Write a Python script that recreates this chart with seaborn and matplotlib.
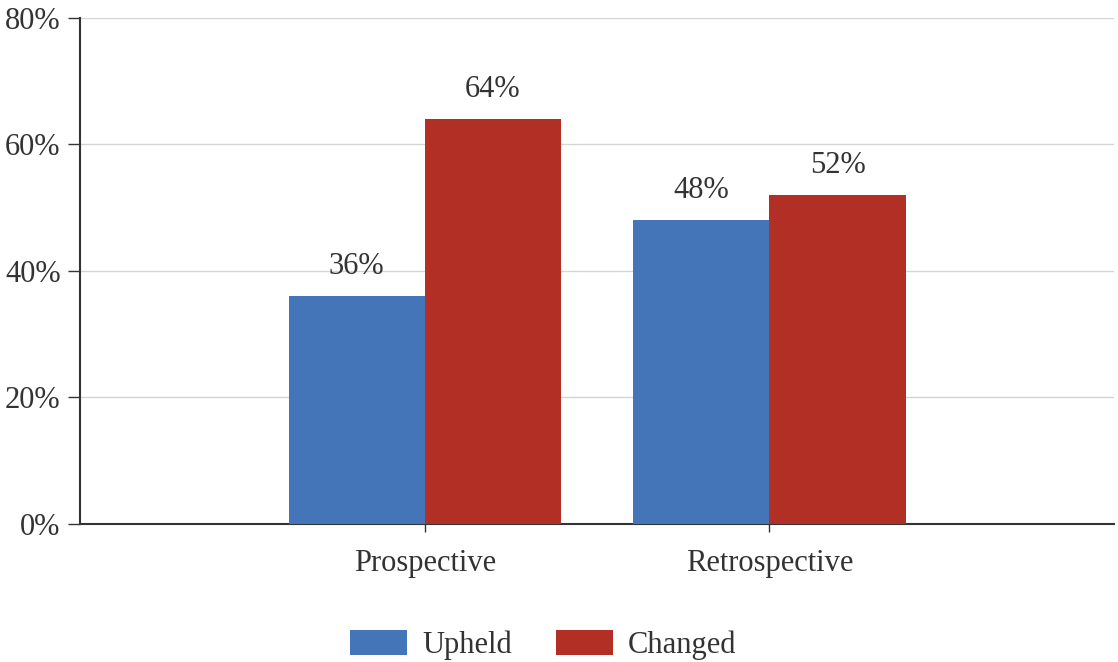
import pandas as pd
import matplotlib
matplotlib.use('Agg')
import matplotlib.pyplot as plt
import seaborn as sns
from matplotlib.patches import Patch

categories = ['Prospective', 'Retrospective']
groups = ['Upheld', 'Changed']
upheld = [36, 48]
changed = [64, 52]
colors = ['#4475b9', '#b12f25']

df = pd.DataFrame({
    'category': categories * 2,
    'group': [groups[0]] * 2 + [groups[1]] * 2,
    'value': upheld + changed,
})

sns.set_style('white')
plt.rcParams['font.family'] = ['Liberation Serif', 'DejaVu Serif']

fig = plt.figure(figsize=(11.18, 6.62), dpi=100)
ax = fig.add_axes([0.0716, 0.2085, 0.925, 0.7645])

sns.barplot(data=df, x='category', y='value', hue='group', palette=colors,
            width=0.79, saturation=1, ax=ax, legend=False, zorder=3, linewidth=0)

for cont in ax.containers:
    ax.bar_label(cont, labels=[f'{v:.0f}%' for v in cont.datavalues],
                 padding=11, fontsize=22, color='#333333')

ax.set_xlim(-1, 2)
ax.set_ylim(0, 80)
ax.set_yticks([0, 20, 40, 60, 80])
ax.set_yticklabels([f'{t}%' for t in [0, 20, 40, 60, 80]], fontsize=22, color='#333333')
ax.set_xticks([0, 1])
ax.set_xticklabels(categories, fontsize=22, color='#333333')
ax.set_xlabel('')
ax.set_ylabel('')
ax.yaxis.grid(True, color='#d5d5d5', linewidth=1, zorder=0)
ax.tick_params(axis='y', left=True, length=9, width=1, color='#333333', pad=5)
ax.tick_params(axis='x', bottom=True, length=6, width=1, color='#333333', pad=12)
for side in ['top', 'right']:
    ax.spines[side].set_visible(False)
for side in ['left', 'bottom']:
    ax.spines[side].set_color('#333333')
    ax.spines[side].set_linewidth(1.5)

handles = [Patch(facecolor=c, edgecolor='none') for c in colors]
fig.legend(handles, groups, loc='center', bbox_to_anchor=(0.486, 0.026), ncol=2,
           frameon=False, fontsize=22, handlelength=1.85, handleheight=0.9,
           columnspacing=1.45, handletextpad=0.5, labelcolor='#333333')

fig.savefig('out.png', dpi=100)
